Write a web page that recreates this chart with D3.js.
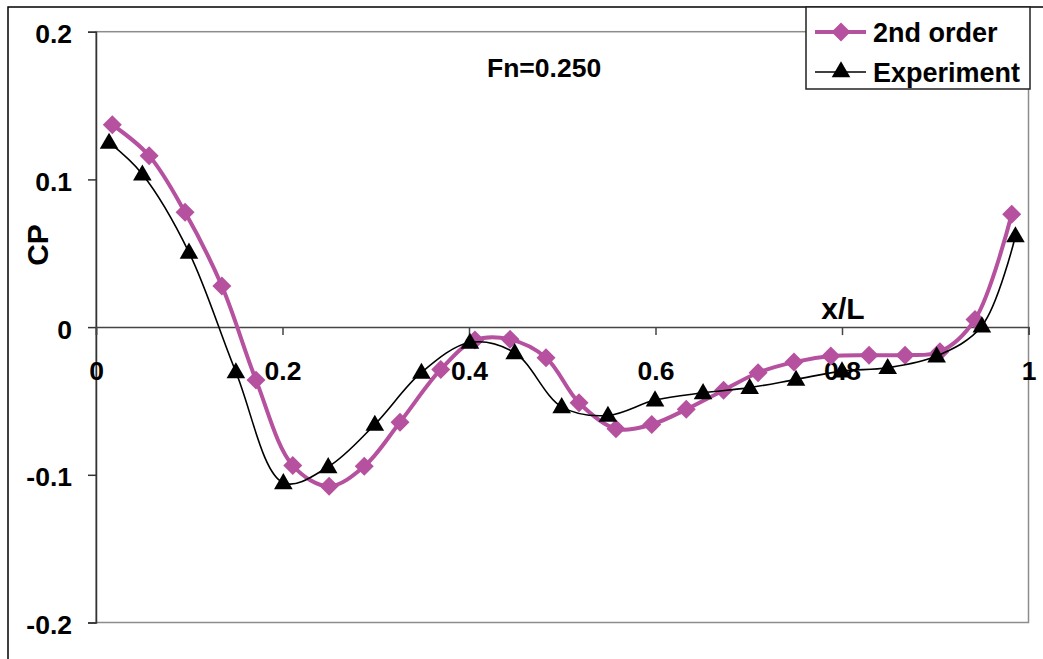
<!DOCTYPE html>
<html>
<head>
<meta charset="utf-8">
<script src="https://cdn.jsdelivr.net/npm/d3@7"></script>
<style>
  html, body { margin: 0; padding: 0; background: #fff; }
  svg { display: block; font-family: "Liberation Sans", Arial, sans-serif; font-weight: bold; }
</style>
</head>
<body>
<svg id="chart" width="1043" height="659"></svg>
<script>
// Pressure coefficient along the hull, Fn = 0.250
const secondOrderX = [0.0175, 0.057, 0.0955, 0.135, 0.1716, 0.211, 0.250, 0.2877, 0.326, 0.3697,
  0.4064, 0.444, 0.4826, 0.518, 0.5576, 0.596, 0.633, 0.673, 0.710, 0.7485,
  0.788, 0.829, 0.8676, 0.905, 0.9426, 0.982];
const secondOrderCP = [0.137, 0.116, 0.0777, 0.0278, -0.0359, -0.0937, -0.1077, -0.0942, -0.0644, -0.0287,
  -0.0088, -0.0083, -0.0207, -0.0512, -0.0688, -0.0659, -0.0557, -0.0427, -0.0309, -0.0237,
  -0.0196, -0.019, -0.019, -0.0167, 0.0052, 0.0764];

const experimentX = [0.014, 0.0497, 0.0997, 0.150, 0.2009, 0.249, 0.299, 0.349, 0.401, 0.449,
  0.4994, 0.549, 0.5995, 0.651, 0.701, 0.7507, 0.800, 0.849, 0.9015, 0.950, 0.986];
const experimentCP = [0.125, 0.1035, 0.0506, -0.0304, -0.1054, -0.0946, -0.0659, -0.0307, -0.0104, -0.0174,
  -0.054, -0.0598, -0.0494, -0.0445, -0.041, -0.0354, -0.0298, -0.0275, -0.0196, 0.0007, 0.0617];

const xTicks = [0, 0.2, 0.4, 0.6, 0.8, 1];
const xTickLabels = ["0", "0.2", "0.4", "0.6", "0.8", "1"];
const yTicks = [-0.2, -0.1, 0, 0.1, 0.2];
const yTickLabels = ["-0.2", "-0.1", "0", "0.1", "0.2"];

const seriesNames = ["2nd order", "Experiment"];
const titleText = "Fn=0.250";

const PINK = "#B5519F";

const svg = d3.select("#chart");

// outer chart frame
svg.append("rect")
  .attr("x", 8).attr("y", 7).attr("width", 1060).attr("height", 680)
  .attr("fill", "none").attr("stroke", "#000").attr("stroke-width", 1.5);

const x = d3.scaleLinear().domain([0, 1]).range([96, 1028.5]);
const y = d3.scaleLinear().domain([-0.2, 0.2]).range([622.5, 31.7]);

// plot area border
svg.append("rect")
  .attr("x", x(0)).attr("y", y(0.2))
  .attr("width", x(1) - x(0)).attr("height", y(-0.2) - y(0.2))
  .attr("fill", "none").attr("stroke", "#8c8c8c").attr("stroke-width", 1.5);

// y axis on the left edge
const yAxis = d3.axisLeft(y)
  .tickValues(yTicks)
  .tickSize(8)
  .tickPadding(16)
  .tickFormat((d, i) => yTickLabels[i]);
const gy = svg.append("g").attr("transform", `translate(${x(0)},0)`).call(yAxis);
gy.select(".domain").attr("stroke", "#333").attr("stroke-width", 1.5);
gy.selectAll(".tick line").attr("stroke", "#333").attr("stroke-width", 1.5);
gy.selectAll(".tick text")
  .attr("font-size", 26.5).attr("font-weight", "bold").attr("fill", "#000")
  .attr("font-family", "Liberation Sans, Arial, sans-serif")
  .attr("dy", "0.42em");

// x axis along CP = 0
const xAxis = d3.axisBottom(x)
  .tickValues(xTicks)
  .tickSize(8)
  .tickPadding(26)
  .tickFormat((d, i) => xTickLabels[i]);
const gx = svg.append("g").attr("transform", `translate(0,${y(0)})`).call(xAxis);
gx.select(".domain").attr("stroke", "#444").attr("stroke-width", 1.5);
gx.selectAll(".tick line").attr("stroke", "#444").attr("stroke-width", 1.5);
gx.selectAll(".tick text")
  .attr("font-size", 26.5).attr("font-weight", "bold").attr("fill", "#000")
  .attr("font-family", "Liberation Sans, Arial, sans-serif");

const line = d3.line()
  .x(d => x(d[0])).y(d => y(d[1]))
  .curve(d3.curveCatmullRom.alpha(0.5));

const pinkData = secondOrderX.map((v, i) => [v, secondOrderCP[i]]);
const expData = experimentX.map((v, i) => [v, experimentCP[i]]);

const diamond = d3.symbol().type(d3.symbolDiamond2).size(230);
const triangle = d3.symbol().type(d3.symbolTriangle).size(150);

// 2nd order series
svg.append("path").datum(pinkData)
  .attr("d", line).attr("fill", "none")
  .attr("stroke", PINK).attr("stroke-width", 4).attr("stroke-linejoin", "round");
svg.append("g").selectAll("path").data(pinkData).join("path")
  .attr("d", diamond)
  .attr("transform", d => `translate(${x(d[0])},${y(d[1])})`)
  .attr("fill", PINK);

// experimental series
svg.append("path").datum(expData)
  .attr("d", line).attr("fill", "none")
  .attr("stroke", "#000").attr("stroke-width", 1.6);
svg.append("g").selectAll("path").data(expData).join("path")
  .attr("d", triangle)
  .attr("transform", d => `translate(${x(d[0])},${y(d[1]) + 1})`)
  .attr("fill", "#000");

// axis titles and annotation
svg.append("text")
  .attr("transform", "translate(48,245) rotate(-90)")
  .attr("text-anchor", "middle")
  .attr("font-size", 30).text("CP");
svg.append("text")
  .attr("x", 843).attr("y", 319)
  .attr("text-anchor", "middle")
  .attr("font-size", 30).text("x/L");
svg.append("text")
  .attr("x", 487).attr("y", 77)
  .attr("font-size", 26.5).text(titleText);

// legend
const lg = svg.append("g");
lg.append("rect")
  .attr("x", 806).attr("y", 7).attr("width", 224).attr("height", 82)
  .attr("fill", "#fff").attr("stroke", "#222").attr("stroke-width", 1.5);
const legendRows = [
  { name: seriesNames[0], color: PINK, width: 4, sym: diamond, cy: 32 },
  { name: seriesNames[1], color: "#000", width: 1.6, sym: triangle, cy: 72 }
];
legendRows.forEach(r => {
  lg.append("line")
    .attr("x1", 815).attr("x2", 866).attr("y1", r.cy).attr("y2", r.cy)
    .attr("stroke", r.color).attr("stroke-width", r.width);
  lg.append("path").attr("d", r.sym)
    .attr("transform", `translate(841,${r.cy})`).attr("fill", r.color);
  lg.append("text")
    .attr("x", 873).attr("y", r.cy + 9.5)
    .attr("font-size", 27).text(r.name);
});
</script>
</body>
</html>
